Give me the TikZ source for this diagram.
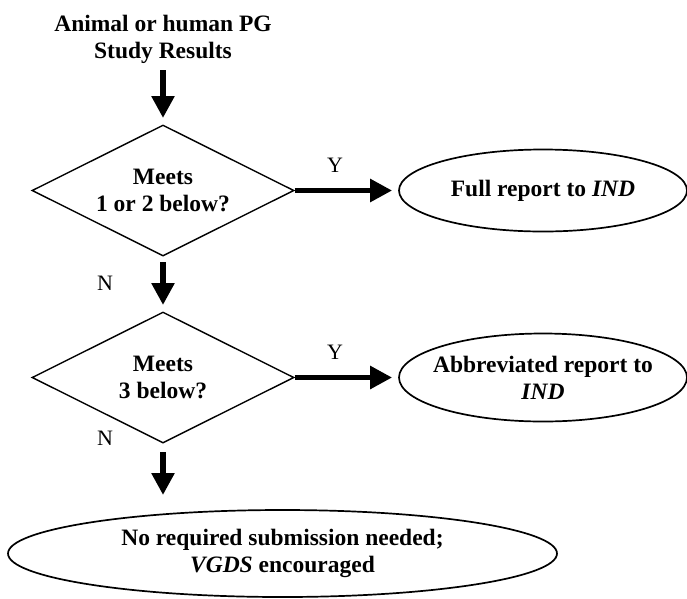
\documentclass[tikz,border=0pt]{standalone}
\usepackage{fontspec}
\setmainfont{Liberation Serif}
\usetikzlibrary{shapes.geometric,arrows.meta}
\begin{document}
\begin{tikzpicture}[x=1pt,y=-1pt,
  txt/.style={font=\fontsize{23.5}{27}\selectfont\bfseries, align=center},
  lbl/.style={font=\fontsize{22}{24}\selectfont},
  dia/.style={draw, line width=1.4pt, diamond, aspect=2, minimum width=262pt, minimum height=131pt, inner sep=0pt, txt},
  ell/.style={draw, line width=1.7pt, ellipse, inner sep=0pt, txt},
  flow/.style={line width=5.5pt, -{Triangle[length=22pt,width=22pt]}}]
\useasboundingbox (0,0) rectangle (687,598);
\node[txt] (start) at (163,39) {Animal or human PG\\Study Results};
\node[dia] (d1) at (163,190.5) {Meets\\1 or 2 below?};
\node[ell, minimum width=288pt, minimum height=82pt] (e1) at (543,190.5) {Full report to \textit{IND}};
\node[dia] (d2) at (163,377.5) {Meets\\3 below?};
\node[ell, inner xsep=-60pt, inner ysep=-10pt, minimum width=288pt, minimum height=88pt] (e2) at (543,377.5) {Abbreviated report to\\\textit{IND}};
\node[ell, inner xsep=-60pt, inner ysep=-10pt, minimum width=549pt, minimum height=87pt] (e3) at (282.5,553.5) {No required submission needed;\\\textit{VGDS} encouraged};
\coordinate (a1s) at (163,70);
\coordinate (a1e) at (163,118);
\coordinate (a2s) at (163,262);
\coordinate (a2e) at (163,305);
\coordinate (a3s) at (163,452);
\coordinate (a3e) at (163,495);
\draw[flow] (a1s) -- (a1e);
\draw[flow] (a2s) -- (a2e);
\draw[flow] (a3s) -- (a3e);
\draw[flow] (d1.east) -- ([xshift=-6pt]e1.west);
\draw[flow] (d2.east) -- ([xshift=-6pt]e2.west);
\node[lbl] (y1) at (335,165.5) {Y};
\node[lbl] (y2) at (335,352.5) {Y};
\node[lbl] (n1) at (105,283) {N};
\node[lbl] (n2) at (105,438) {N};
\end{tikzpicture}
\end{document}
